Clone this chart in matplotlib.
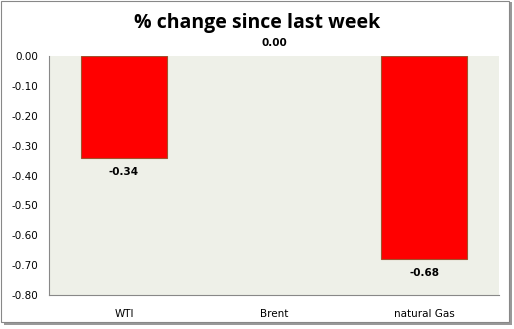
import matplotlib.pyplot as plt
from matplotlib.patches import Rectangle

categories = ["WTI", "Brent", "natural Gas"]
changes = [-0.34, 0.00, -0.68]
yticks = [0.0, -0.1, -0.2, -0.3, -0.4, -0.5, -0.6, -0.7, -0.8]

fig = plt.figure(figsize=(5.14, 3.29), dpi=100)
ax = fig.add_axes([49 / 514, 1 - 295 / 329, 450 / 514, 239 / 329])
ax.set_facecolor("#eef0e8")

x = range(len(categories))
widths = [0.8 if v != 0 else 0 for v in changes]
ax.bar(x, changes, width=0.575, color="#ff0000", edgecolor="#a0522d", linewidth=widths)

for xi, v in zip(x, changes):
    if v < 0:
        ax.text(xi, v - 0.03, f"{v:.2f}", ha="center", va="top",
                fontsize=7.5, fontweight="bold", clip_on=False)
    else:
        # Excel puts the zero label above the plot area
        ax.annotate(f"{v:.2f}", (xi, v), xytext=(0, 9), textcoords="offset points",
                    ha="center", va="center", fontsize=7.5, fontweight="bold",
                    annotation_clip=False)

ax.set_xlim(-0.5, 2.5)
ax.set_ylim(-0.8, 0.0)
ax.set_yticks(yticks)
ax.set_yticklabels([f"{t:.2f}" for t in yticks], fontsize=7.5)
ax.set_xticks(list(x))
ax.set_xticklabels(categories, fontsize=7.5)
ax.tick_params(length=0, pad=10)
ax.tick_params(axis="y", pad=8)

for side in ["top", "right"]:
    ax.spines[side].set_visible(False)
for side in ["left", "bottom"]:
    ax.spines[side].set_color("#888888")
    ax.spines[side].set_linewidth(0.8)

fig.text(0.5, 1 - 23 / 329, "% change since last week", ha="center", va="center",
         fontsize=14, fontweight="bold", family="Open Sans")

# outer frame with shadow
fig.patches.append(Rectangle((4 / 514, 4 / 329), 508 / 514, 323 / 329, transform=fig.transFigure,
                             facecolor="#999999", edgecolor="none", zorder=-2))
fig.patches.append(Rectangle((1 / 514, 7 / 329), 508 / 514, 321 / 329, transform=fig.transFigure,
                             facecolor="white", edgecolor="#888888", linewidth=0.8, zorder=-1))

fig.savefig("out.png", dpi=100)
